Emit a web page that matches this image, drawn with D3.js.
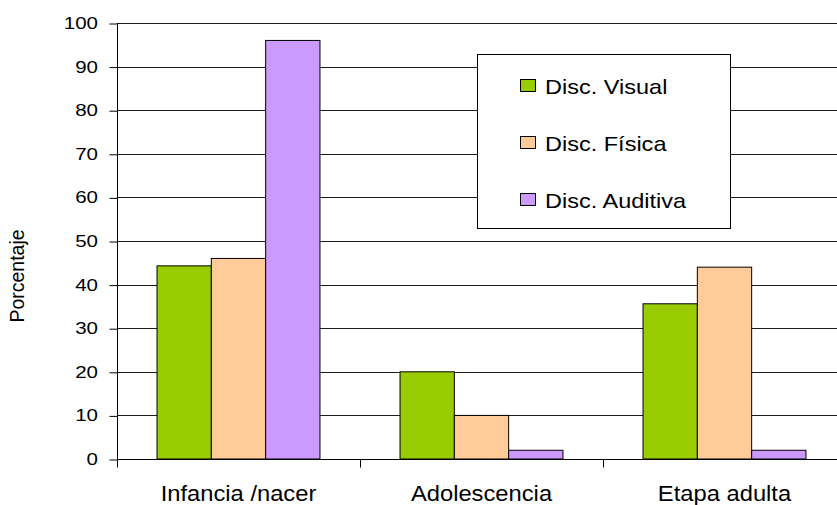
<!DOCTYPE html>
<html>
<head>
<meta charset="utf-8">
<script src="https://cdn.jsdelivr.net/npm/d3@7"></script>
<style>
  html, body { margin: 0; padding: 0; background: #fff; overflow: hidden; }
  text { font-family: "Liberation Sans", Arial, sans-serif; fill: #000; }
</style>
</head>
<body>
<svg id="chart" width="837" height="505"></svg>
<script>
// Stages of onset of disability and percentage per disability type
const categories = ["Infancia /nacer", "Adolescencia", "Etapa adulta"];
const seriesNames = ["Disc. Visual", "Disc. Física", "Disc. Auditiva"];
const visual   = [44.3, 20, 35.6];
const fisica   = [46, 10, 44];
const auditiva = [96, 2, 2];
const yTicks = [0, 10, 20, 30, 40, 50, 60, 70, 80, 90, 100];
const colors = ["#99CC00", "#FFCC99", "#CC99FF"];

const seriesValues = [visual, fisica, auditiva];
const rows = categories.map((c, i) => ({
  category: c,
  values: seriesNames.map((s, j) => ({ series: s, value: seriesValues[j][i], color: colors[j] }))
}));

const svg = d3.select("#chart");
const plot = { left: 117, top: 23, right: 846, bottom: 459 };

const x = d3.scaleBand().domain(categories).range([plot.left, plot.right]).paddingInner(0).paddingOuter(0);
const xInner = d3.scaleBand().domain(seriesNames)
  .range([0, x.bandwidth()]).paddingInner(0).paddingOuter(0.737);
const y = d3.scaleLinear().domain([0, 100]).range([plot.bottom, plot.top]);

// horizontally widened text helper
function wideText(sel, sx) {
  return sel.attr("transform", function () {
    const t = d3.select(this);
    return `translate(${t.attr("data-x")},${t.attr("data-y")}) scale(${sx},1)`;
  });
}

// horizontal gridlines
svg.append("g").selectAll("line").data(yTicks.filter(d => d > 0)).join("line")
  .attr("x1", plot.left).attr("x2", plot.right)
  .attr("y1", d => Math.round(y(d)) + 0.5).attr("y2", d => Math.round(y(d)) + 0.5)
  .attr("stroke", "#1a1a1a").attr("stroke-width", 1);

// bars
const groups = svg.append("g").selectAll("g").data(rows).join("g")
  .attr("transform", d => `translate(${x(d.category)},0)`);
groups.selectAll("rect").data(d => d.values).join("rect")
  .attr("x", d => xInner(d.series))
  .attr("width", xInner.bandwidth())
  .attr("y", d => y(d.value))
  .attr("height", d => y(0) - y(d.value))
  .attr("fill", d => d.color)
  .attr("stroke", "#000").attr("stroke-width", 1);

// y axis
const yAxis = d3.axisLeft(y).tickValues(yTicks).tickSize(8).tickFormat("");
const gy = svg.append("g").attr("transform", `translate(${plot.left + 0.5},0.5)`).call(yAxis);
gy.select(".domain").attr("stroke", "#000").attr("d", `M0,${plot.top}V${plot.bottom}`);
gy.selectAll(".tick line").attr("stroke", "#000");
svg.append("g").selectAll("text").data(yTicks).join("text")
  .attr("data-x", 98).attr("data-y", d => y(d) + 6)
  .attr("text-anchor", "end")
  .attr("font-size", 16.3)
  .text(d => d)
  .call(wideText, 1.26);

// x axis: ticks sit on category boundaries
const gx = svg.append("g").attr("transform", `translate(0,${plot.bottom + 0.5})`);
gx.append("line").attr("x1", plot.left).attr("x2", plot.right).attr("stroke", "#000");
const boundaries = categories.map(c => x(c)).concat([plot.right]);
gx.selectAll("line.tk").data(boundaries).join("line").attr("class", "tk")
  .attr("x1", d => Math.round(d) + 0.5).attr("x2", d => Math.round(d) + 0.5)
  .attr("y1", 0).attr("y2", 8).attr("stroke", "#000");
svg.append("g").selectAll("text").data(categories).join("text")
  .attr("data-x", d => x(d) + x.bandwidth() / 2)
  .attr("data-y", 501)
  .attr("text-anchor", "middle")
  .attr("font-size", 21.2)
  .text(d => d)
  .call(wideText, 1.12);

// y axis title
svg.append("text")
  .attr("transform", "translate(24,276) rotate(-90)")
  .attr("text-anchor", "middle")
  .attr("font-size", 19.5)
  .text("Porcentaje");

// legend
const legend = svg.append("g");
legend.append("rect")
  .attr("x", 477.5).attr("y", 54.5).attr("width", 253).attr("height", 174)
  .attr("fill", "#fff").attr("stroke", "#000").attr("stroke-width", 1);
const items = legend.selectAll("g.item").data(seriesNames).join("g").attr("class", "item")
  .attr("transform", (d, i) => `translate(520,${85.5 + i * 57})`);
items.append("rect")
  .attr("x", 0.5).attr("y", -6).attr("width", 15).attr("height", 12)
  .attr("fill", (d, i) => colors[i]).attr("stroke", "#000").attr("stroke-width", 1);
items.append("text")
  .attr("data-x", 25).attr("data-y", 8.5)
  .attr("font-size", 21)
  .text(d => d)
  .call(wideText, 1.12);
</script>
</body>
</html>
